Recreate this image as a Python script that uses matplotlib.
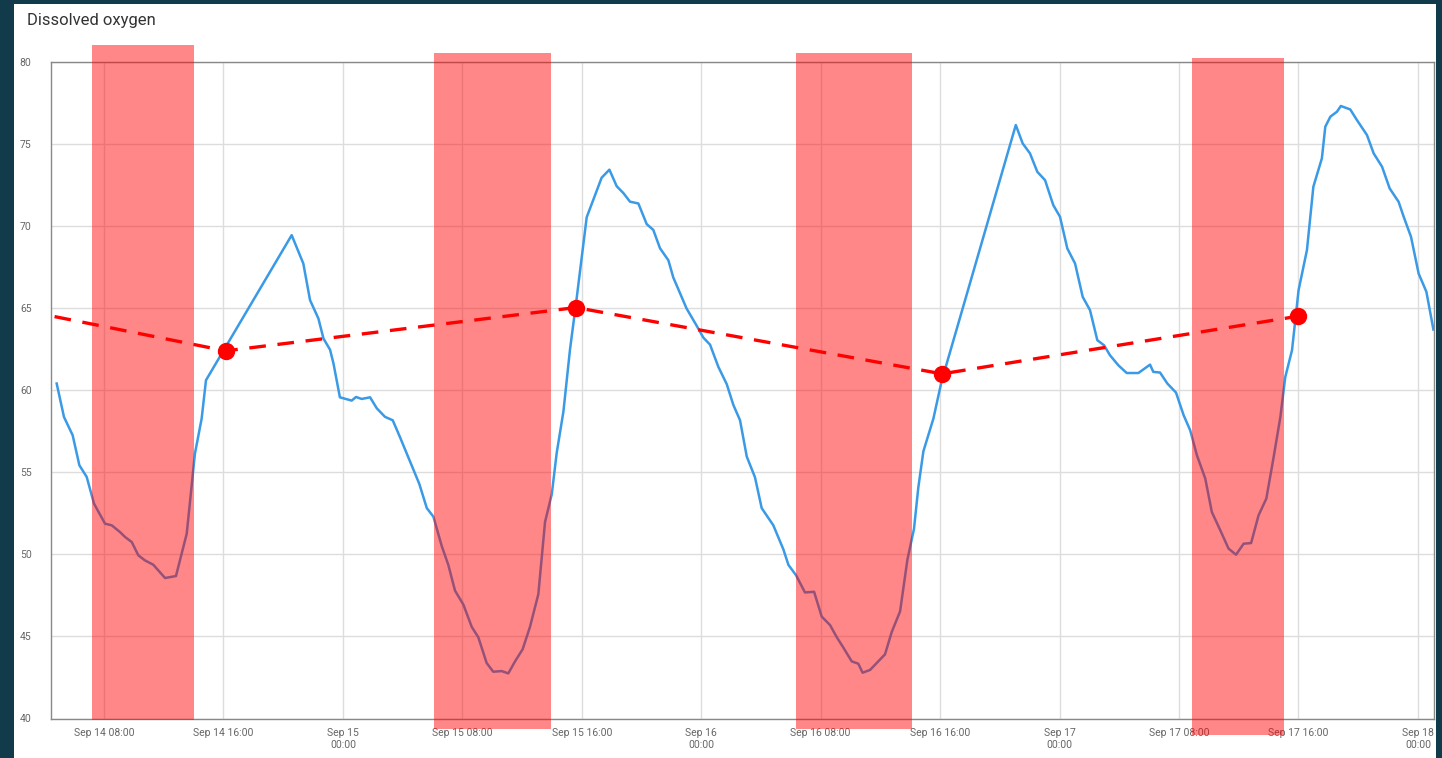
import numpy as np
import pandas as pd
import matplotlib
matplotlib.use("Agg")
from matplotlib import pyplot as plt
from matplotlib import dates as mdates
from matplotlib import patches
from matplotlib.ticker import FuncFormatter, MultipleLocator

plt.rcParams['font.family'] = ['Roboto', 'DejaVu Sans']

## Data: hours after Sep 14 00:00 and dissolved oxygen readings

base = pd.Timestamp('2023-09-14 00:00')

do_hours = [4.83, 5.32, 5.90, 6.35, 6.84, 7.33, 8.07, 8.52, 9.07, 9.41, 9.86, 10.30, 10.75, 11.30,
            12.09, 12.82, 13.54, 14.09, 14.54, 14.83,
            20.57, 21.35, 21.80, 22.36, 22.70, 23.14, 23.37, 23.80, 24.59, 24.88, 25.26, 25.82,
            26.27, 26.82, 27.34, 27.83, 28.50, 29.12, 29.62, 30.06, 30.62, 31.06, 31.51, 32.07,
            32.63, 33.07, 33.63, 34.07, 34.63, 35.08, 35.53, 36.04, 36.53, 37.09, 37.54, 37.99,
            38.32, 38.77, 39.21, 39.66, 40.33, 41.33, 41.85, 42.34, 42.79, 43.23, 43.79, 44.35,
            44.79, 45.24, 45.80, 46.13, 47.02, 47.69, 48.14, 48.59, 49.15, 49.71, 50.15, 50.60,
            51.05, 51.60, 52.05, 52.83, 53.50, 53.84, 54.35, 54.95, 55.56, 56.07, 56.63, 57.08,
            57.52, 58.08, 58.52, 58.81, 59.31, 59.75, 60.31, 60.76, 61.32, 61.81, 62.25, 62.54,
            62.88, 63.55, 64.10,
            69.07, 69.53, 70.02, 70.51, 71.03, 71.58, 72.03, 72.52, 73.04, 73.55, 74.04, 74.53,
            74.98, 75.38, 75.94, 76.50, 77.28, 78.06, 78.28, 78.73, 79.22, 79.80, 80.31, 80.75,
            81.20, 81.76, 82.20, 82.77, 83.32, 83.82, 84.33, 84.83, 85.33, 85.85, 86.34, 86.79,
            87.12, 87.57, 88.01, 88.57, 89.00, 89.57, 89.80, 90.14, 90.58, 90.84, 91.47, 91.92,
            92.59, 93.04, 93.60, 94.11, 94.71, 95.05, 95.54, 96.05, 96.57, 97.04]

do_values = [60.41, 58.37, 57.26, 55.43, 54.72, 53.09, 51.87, 51.77, 51.36, 51.06, 50.75, 49.94, 49.63, 49.37,
             48.56, 48.68, 51.26, 56.14, 58.27, 60.61,
             69.45, 67.72, 65.49, 64.37, 63.15, 62.47, 61.63, 59.57, 59.37, 59.59, 59.47, 59.57,
             58.90, 58.38, 58.17, 57.13, 55.65, 54.29, 52.82, 52.30, 50.51, 49.36, 47.79, 46.94,
             45.58, 44.95, 43.38, 42.85, 42.89, 42.75, 43.48, 44.22, 45.58, 47.57, 51.98, 53.66,
             56.18, 58.70, 62.47, 65.62, 70.54, 72.95, 73.44, 72.43, 72.01, 71.49, 71.38, 70.12,
             69.77, 68.65, 67.92, 66.87, 64.98, 63.94, 63.21, 62.78, 61.42, 60.37, 59.11, 58.17,
             55.96, 54.70, 52.82, 51.77, 50.31, 49.36, 48.73, 47.68, 47.72, 46.21, 45.69, 44.95,
             44.32, 43.48, 43.34, 42.79, 42.96, 43.38, 43.91, 45.27, 46.53, 49.68, 51.55, 54.07,
             56.28, 58.27, 60.55,
             76.16, 75.04, 74.43, 73.31, 72.80, 71.28, 70.57, 68.64, 67.72, 65.69, 64.88, 63.05,
             62.74, 62.13, 61.52, 61.05, 61.05, 61.56, 61.12, 61.08, 60.41, 59.86, 58.48, 57.56,
             56.04, 54.62, 52.58, 51.46, 50.35, 49.98, 50.65, 50.69, 52.38, 53.40, 55.93, 58.37,
             60.81, 62.44, 66.10, 68.54, 72.40, 74.13, 76.06, 76.67, 76.97, 77.32, 77.11, 76.46,
             75.55, 74.43, 73.62, 72.30, 71.48, 70.57, 69.35, 67.11, 66.00, 63.70]

# daily reference points (dashed red line)
ref_hours  = [-8.0, 16.15, 39.6, 64.13, 87.97]
ref_values = [66.8, 62.40, 65.04, 61.00, 64.51]

# night periods: start hour, end hour, low, high
span_start = [7.20, 30.10, 54.35, 80.87]
span_end   = [14.03, 37.94, 62.12, 87.04]
span_low   = [39.88, 39.39, 39.39, 39.02]
span_high  = [81.04, 80.55, 80.55, 80.24]

def to_num(h):
    return mdates.date2num(base + pd.to_timedelta(np.asarray(h, dtype=float), unit='h'))

## Figure

fig = plt.figure(figsize=(14.42, 7.58), dpi=100, facecolor='#113a4b')
fig.patches.append(patches.Rectangle((14/1442, 0), 1422/1442, 754/758,
                                     transform=fig.transFigure, facecolor='white',
                                     edgecolor='none', zorder=-10))
fig.text(27/1442, 1 - 21/758, 'Dissolved oxygen', fontsize=12, color='#333333',
         ha='left', va='center')

ax = fig.add_axes([51/1442, 1 - 718.5/758, 1383/1442, 656.5/758])
ax.set_facecolor('white')

ax.plot(to_num(do_hours), do_values, color='#3a9ae6', lw=1.8, zorder=2)

for s, e, lo, hi in zip(span_start, span_end, span_low, span_high):
    x0 = to_num(s)
    x1 = to_num(e)
    ax.add_patch(patches.Rectangle((x0, lo), x1 - x0, hi - lo, facecolor='red',
                                   alpha=0.47, edgecolor='none', clip_on=False, zorder=3))

ax.plot(to_num(ref_hours), ref_values, color='red', lw=2.4, ls=(0, (5, 3.5)), zorder=4)
ax.plot(to_num(ref_hours), ref_values, 'o', color='red', ms=11.5, zorder=5)

ax.set_xlim(to_num(4.45), to_num(97.08))
ax.set_ylim(40, 80)

tick_hours = np.arange(8, 97, 8)
ax.set_xticks(to_num(tick_hours))

def fmt_date(x, pos):
    d = mdates.num2date(x)
    if d.hour == 0:
        return d.strftime('%b %d') + '\n00:00'
    return d.strftime('%b %d %H:%M')

ax.xaxis.set_major_formatter(FuncFormatter(fmt_date))
ax.yaxis.set_major_locator(MultipleLocator(5))

ax.grid(True, color='#dddddd', lw=1, zorder=0)
ax.set_axisbelow(True)
ax.tick_params(axis='both', length=0, labelsize=7.5, labelcolor='#666666')
ax.tick_params(axis='x', pad=7)
ax.tick_params(axis='y', pad=14)
for sp in ax.spines.values():
    sp.set_color('#888888')
    sp.set_linewidth(1)

fig.savefig('out.png', dpi=100, facecolor=fig.get_facecolor())
